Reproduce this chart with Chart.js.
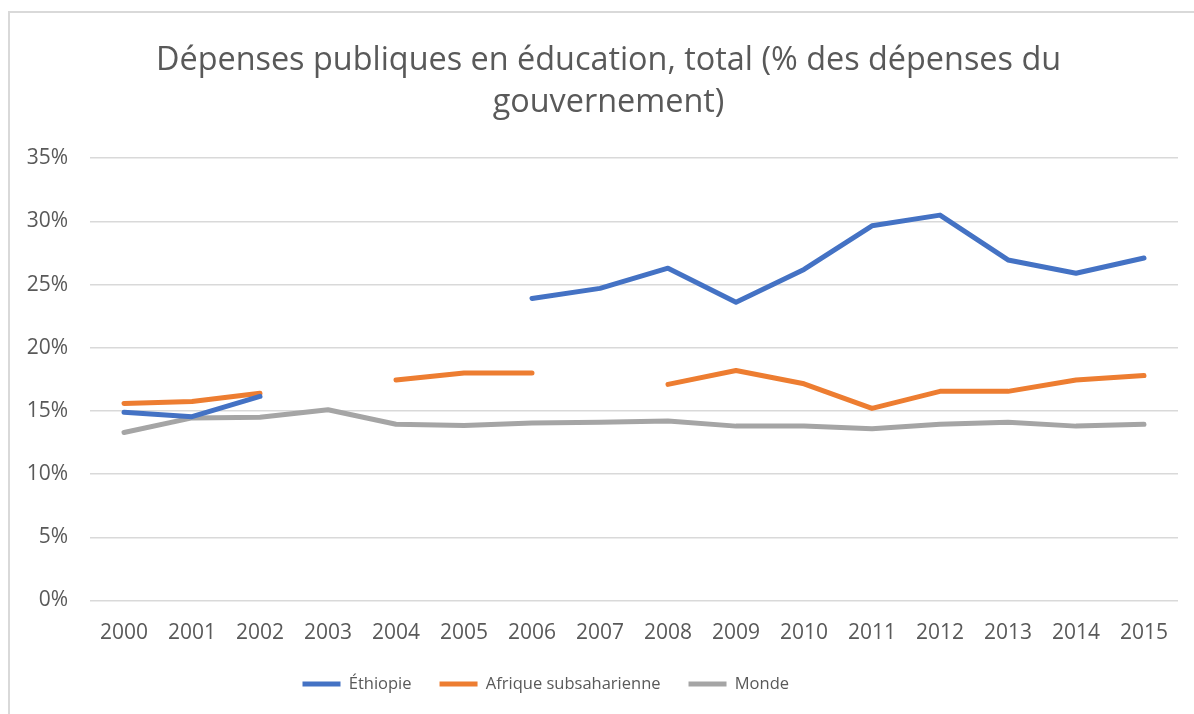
<!DOCTYPE html>
<html lang="fr">
<head>
<meta charset="utf-8">
<title>Dépenses publiques en éducation</title>
<script src="https://cdn.jsdelivr.net/npm/chart.js@4.4.1/dist/chart.umd.min.js"></script>
<style>
  html, body { margin: 0; padding: 0; background: #fff; overflow: hidden; }
  #frame {
    position: absolute; left: 8px; top: 11px;
    width: 1400px; height: 900px;
    border-left: 2px solid #d9d9d9; border-top: 2px solid #d9d9d9;
  }
  #chart { position: absolute; left: 0; top: 0; }
</style>
</head>
<body>
<div id="frame"></div>
<canvas id="chart" width="1194" height="714"></canvas>
<script>
// ── Données ─────────────────────────────────────────────────────────────────
const annees = ["2000", "2001", "2002", "2003", "2004", "2005", "2006", "2007",
                "2008", "2009", "2010", "2011", "2012", "2013", "2014", "2015"];

const ethiopie = [14.9, 14.55, 16.15, null, null, null, 23.9, 24.7,
                  26.3, 23.6, 26.2, 29.65, 30.5, 26.95, 25.9, 27.1];

const afriqueSub = [15.6, 15.75, 16.4, null, 17.45, 18.0, 18.0, null,
                    17.1, 18.2, 17.15, 15.2, 16.55, 16.55, 17.45, 17.8];

const monde = [13.3, 14.45, 14.5, 15.1, 13.95, 13.85, 14.05, 14.1,
               14.2, 13.8, 13.8, 13.6, 13.95, 14.1, 13.8, 13.95];

const titre = ["Dépenses publiques en éducation, total (% des dépenses du", "gouvernement)"];
const yTicks = [0, 5, 10, 15, 20, 25, 30, 35];

// ── Style ───────────────────────────────────────────────────────────────────
const FONT = "'Open Sans', 'Noto Sans', sans-serif";
const TEXT = "#595959";
const GRID = "#d9d9d9";
const LEG_PAD = 28;
const LEG_FONT = 16.5;

const serie = (label, data, color) => ({
  label,
  data,
  borderColor: color,
  backgroundColor: color,
  borderWidth: 5,
  borderCapStyle: "round",
  borderJoinStyle: "round",
  pointRadius: 0,
  pointHoverRadius: 0,
  tension: 0,
  spanGaps: false,
});

// décale titre et légende comme dans l'original (pas centrés sur le canvas)
const recalage = {
  id: "recalage",
  afterLayout(chart) {
    const t = chart.titleBlock;
    if (t) { t.left += 15; t.right += 15; }
    const l = chart.legend;
    if (l) {
      const x0 = (l.left + LEG_PAD + l.right - l.lineWidths[0]) / 2;
      const dx = 302.5 - x0;
      l.left += dx; l.right += dx;
      const dy = 684 - (l.top + LEG_PAD + LEG_FONT / 2);
      l.top += dy; l.bottom += dy;
    }
  },
};

new Chart(document.getElementById("chart"), {
  type: "line",
  data: {
    labels: annees,
    datasets: [
      serie("Éthiopie", ethiopie, "#4472c4"),
      serie("Afrique subsaharienne", afriqueSub, "#ed7d31"),
      serie("Monde", monde, "#a5a5a5"),
    ],
  },
  options: {
    responsive: false,
    animation: false,
    layout: { padding: { left: 9, right: 16, top: 0, bottom: 0 } },
    plugins: {
      title: {
        display: true,
        text: titre,
        color: TEXT,
        font: { family: FONT, size: 32.4, weight: "normal", lineHeight: 1.3 },
        padding: { top: 40, bottom: 34 },
      },
      legend: {
        position: "bottom",
        labels: {
          color: TEXT,
          font: { family: FONT, size: LEG_FONT },
          usePointStyle: true,
          pointStyle: "line",
          pointStyleWidth: 38,
          padding: LEG_PAD,
        },
      },
      tooltip: { enabled: false },
    },
    scales: {
      x: {
        offset: true,
        grid: { display: false, drawTicks: false },
        border: { display: false },
        ticks: { color: TEXT, font: { family: FONT, size: 21 }, padding: 20, maxRotation: 0 },
        afterFit: s => { s.height = 59; },
      },
      y: {
        min: 0,
        max: 35,
        afterBuildTicks: s => { s.ticks = yTicks.map(v => ({ value: v })); },
        grid: { color: GRID, lineWidth: 1.5, drawTicks: false },
        border: { display: false },
        ticks: {
          color: TEXT,
          font: { family: FONT, size: 21 },
          padding: 22,
          callback: v => v + "%",
        },
        afterFit: s => { s.width = 81; },
      },
    },
  },
  plugins: [recalage],
});
</script>
</body>
</html>
